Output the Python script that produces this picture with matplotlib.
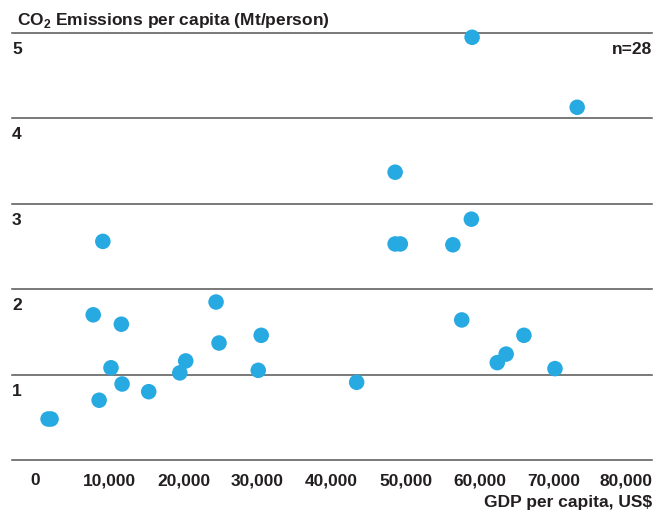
import matplotlib.pyplot as plt
import numpy as np

plt.rcParams['font.family'] = ['Liberation Sans', 'DejaVu Sans']
plt.rcParams['mathtext.fontset'] = 'custom'
plt.rcParams['mathtext.rm'] = 'Liberation Sans:bold'
plt.rcParams['mathtext.bf'] = 'Liberation Sans:bold'

# GDP per capita (US$) and CO2 emissions per capita
gdp = [59000, 73200, 48600, 58900, 9100, 48600, 49300, 56400,
       24400, 7800, 11600, 57600, 30500, 66000, 24800, 63600,
       10200, 20300, 62400, 19500, 30100, 70200, 43400, 11700,
       15300, 8600, 1700, 2100]
co2 = [4.95, 4.13, 3.37, 2.82, 2.56, 2.53, 2.53, 2.52,
       1.85, 1.70, 1.59, 1.64, 1.46, 1.46, 1.37, 1.24,
       1.08, 1.16, 1.14, 1.02, 1.05, 1.07, 0.91, 0.89,
       0.80, 0.70, 0.48, 0.48]

x_ticks = np.arange(0, 90000, 10000)
x_labels = ['0', '10,000', '20,000', '30,000', '40,000', '50,000',
            '60,000', '70,000', '80,000']
y_ticks = [0, 1, 2, 3, 4, 5]

txt = '#231f20'
fs = 12.5

fig = plt.figure(figsize=(6.69, 5.15), dpi=100)
ax = fig.add_axes([12 / 669, 55 / 515, 640 / 669, 427 / 515])

ax.set_xlim(-3176, 83311)
ax.set_ylim(0, 5)

for s in ax.spines.values():
    s.set_visible(False)
ax.set_xticks([])
ax.set_yticks([])

# horizontal gridlines
for y in y_ticks:
    ax.axhline(y, color='#555555', lw=1.1, zorder=1, clip_on=False)

# y labels sit just under their gridlines
for y in y_ticks[1:]:
    ax.text(0.0, y - 0.246, str(y), transform=ax.get_yaxis_transform(),
            ha='left', va='baseline', fontsize=fs, fontweight='bold', color=txt)

# x labels (last one is pushed in to end at the right edge)
for xv, lab in zip(x_ticks[:-1], x_labels[:-1]):
    ax.text(xv, -0.293, lab, ha='center', va='baseline', fontsize=fs,
            fontweight='bold', color=txt, clip_on=False)
ax.text(1.0, -0.293, x_labels[-1], transform=ax.get_yaxis_transform(),
        ha='right', va='baseline', fontsize=fs, fontweight='bold', color=txt)

ax.scatter(gdp, co2, s=125, color='#27a9e1', edgecolors='none', zorder=3,
           clip_on=False)

fig.text(17 / 669, 1 - 25 / 515, r'CO$_2$ Emissions per capita (Mt/person)',
         ha='left', va='baseline', fontsize=fs, fontweight='bold', color=txt)
fig.text(652 / 669, 1 - 54 / 515, 'n=28', ha='right', va='baseline',
         fontsize=fs, fontweight='bold', color=txt)
fig.text(652 / 669, 1 - 507 / 515, 'GDP per capita, US$', ha='right',
         va='baseline', fontsize=fs, fontweight='bold', color=txt)

fig.savefig('out.png', dpi=100)
